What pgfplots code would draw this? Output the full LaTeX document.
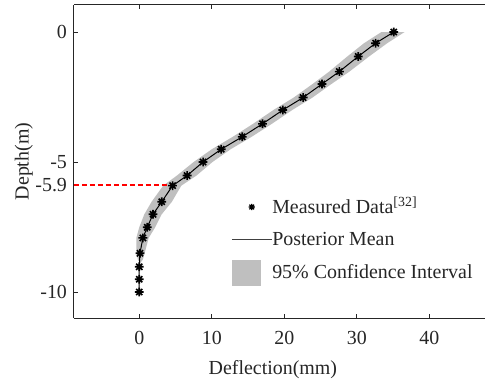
\documentclass[border=0pt]{standalone}
\usepackage{fontspec}
\setmainfont{Liberation Serif}
\usepackage{pgfplots}
\pgfplotsset{compat=1.18}
\usetikzlibrary{calc}
\definecolor{bandgray}{RGB}{191,191,191}
\definecolor{axgray}{RGB}{38,38,38}
\pgfdeclareplotmark{star8}{%
  \pgfpathmoveto{\pgfqpoint{-\pgfplotmarksize}{0pt}}\pgfpathlineto{\pgfqpoint{\pgfplotmarksize}{0pt}}%
  \pgfpathmoveto{\pgfqpoint{0pt}{-\pgfplotmarksize}}\pgfpathlineto{\pgfqpoint{0pt}{\pgfplotmarksize}}%
  \pgfpathmoveto{\pgfqpoint{-0.707\pgfplotmarksize}{-0.707\pgfplotmarksize}}\pgfpathlineto{\pgfqpoint{0.707\pgfplotmarksize}{0.707\pgfplotmarksize}}%
  \pgfpathmoveto{\pgfqpoint{-0.707\pgfplotmarksize}{0.707\pgfplotmarksize}}\pgfpathlineto{\pgfqpoint{0.707\pgfplotmarksize}{-0.707\pgfplotmarksize}}%
  \pgfusepathqstroke}
\pgfplotstableread{
x y
35.1 0
32.6 -0.43
30.2 -0.94
27.6 -1.52
25.2 -2.0
22.6 -2.52
19.8 -3.0
17.0 -3.53
14.2 -4.03
11.3 -4.51
8.8 -5.0
6.6 -5.52
4.6 -5.91
3.1 -6.53
1.9 -7.01
1.1 -7.51
0.5 -7.92
0.1 -8.51
0.0 -9.03
0.0 -9.51
0.0 -10.0
}\measured
\pgfplotstableread{
x y
33.4 0
31.0 -0.43
28.7 -0.94
26.2 -1.52
23.9 -2.0
21.3 -2.52
18.5 -3.0
15.7 -3.53
12.9 -4.03
10.0 -4.51
7.5 -5.0
5.2 -5.52
3.3 -5.91
1.7 -6.53
0.7 -7.01
0.0 -7.51
-0.4 -7.92
-0.4 -8.45
-0.2 -8.75
0.1 -8.9
0.5 -8.75
0.8 -8.45
1.3 -7.92
2.2 -7.51
3.1 -7.01
4.5 -6.53
5.8 -5.91
7.9 -5.52
10.1 -5.0
12.6 -4.51
15.5 -4.03
18.3 -3.53
21.1 -3.0
23.9 -2.52
26.5 -2.0
29.0 -1.52
31.7 -0.94
34.2 -0.43
36.6 0
}\band
\pgfplotstableread{
x y
-9 -5.9
4.6 -5.9
}\dashdata
\begin{document}
\begin{tikzpicture}
\begin{axis}[
  name=ax,
  scale only axis, width=205.5bp, height=156.5bp,
  xmin=-9, xmax=47.69, ymin=-11, ymax=1.04,
  axis x line*=box, axis y line*=left,
  xtick={0,10,20,30,40}, xticklabels={0,10,20,30,40},
  ytick={-10,-5,0}, yticklabels={-10,-5,0},
  extra y ticks={-5.9}, extra y tick labels={-5.9},
  extra y tick style={major tick length=0pt},
  tick align=inside, major tick length=2.2bp,
  axis line style={line width=0.5bp, draw=axgray},
  tick style={line width=0.5bp, draw=axgray},
  ticklabel style={font=\fontsize{10}{12}\selectfont, text=axgray},
  xticklabel style={yshift=-3bp},
  label style={font=\fontsize{10}{12}\selectfont, text=axgray},
  xlabel={Deflection(mm)}, ylabel={Depth(m)},
  xlabel style={at={(axis description cs:0.484,-0.165)}, anchor=center},
  ylabel style={at={(axis description cs:-0.122,0.5)}, anchor=center},
  legend cell align=left,
  legend style={at={(axis cs:12.69,-6.23)}, anchor=north west, draw=none, fill=none,
    inner sep=0pt, outer sep=0pt, row sep=3.5bp,
    font=\fontsize{10}{12}\selectfont, text=axgray,
    nodes={inner sep=0pt},
    /tikz/every even column/.append style={column sep=1bp}},
]
\addlegendimage{legend image code/.code={%
  \path[draw=none, fill=none] (0bp,-6.5bp) rectangle (20bp,6.5bp);
  \draw[black, line width=0.7bp] plot[mark=star8, mark size=1.6bp] coordinates {(10bp,0bp)};}}
\addlegendentry{Measured Data\textsuperscript{[32]}}
\addlegendimage{legend image code/.code={%
  \path[draw=none, fill=none] (0bp,-6.5bp) rectangle (20bp,6.5bp);
  \draw[black!75, line width=0.5bp] (0bp,0bp) -- (20bp,0bp);}}
\addlegendentry{Posterior Mean}
\addlegendimage{legend image code/.code={%
  \path[draw=none, fill=none] (0bp,-6.5bp) rectangle (20bp,6.5bp);
  \fill[bandgray, draw=none] (0bp,-6.5bp) rectangle (14.5bp,6.5bp);}}
\addlegendentry{95\% Confidence Interval}
\addplot[fill=bandgray, draw=none, forget plot] table[x=x,y=y] {\band};
\addplot[black, line width=0.5bp, forget plot] table[x=x,y=y] {\measured};
\addplot[only marks, mark=star8, mark size=2.2bp, mark options={line width=0.8bp, black}, forget plot] table[x=x,y=y] {\measured};
\addplot[draw=red, mark=none, line width=1bp, dash pattern=on 2.6bp off 1.4bp, forget plot] table[x=x,y=y] {\dashdata};
\end{axis}
\pgfresetboundingbox
\path ($(ax.south west)+(-37bp,-33.5bp)$) rectangle ($(ax.north east)+(0bp,2.5bp)$);
\end{tikzpicture}
\end{document}
